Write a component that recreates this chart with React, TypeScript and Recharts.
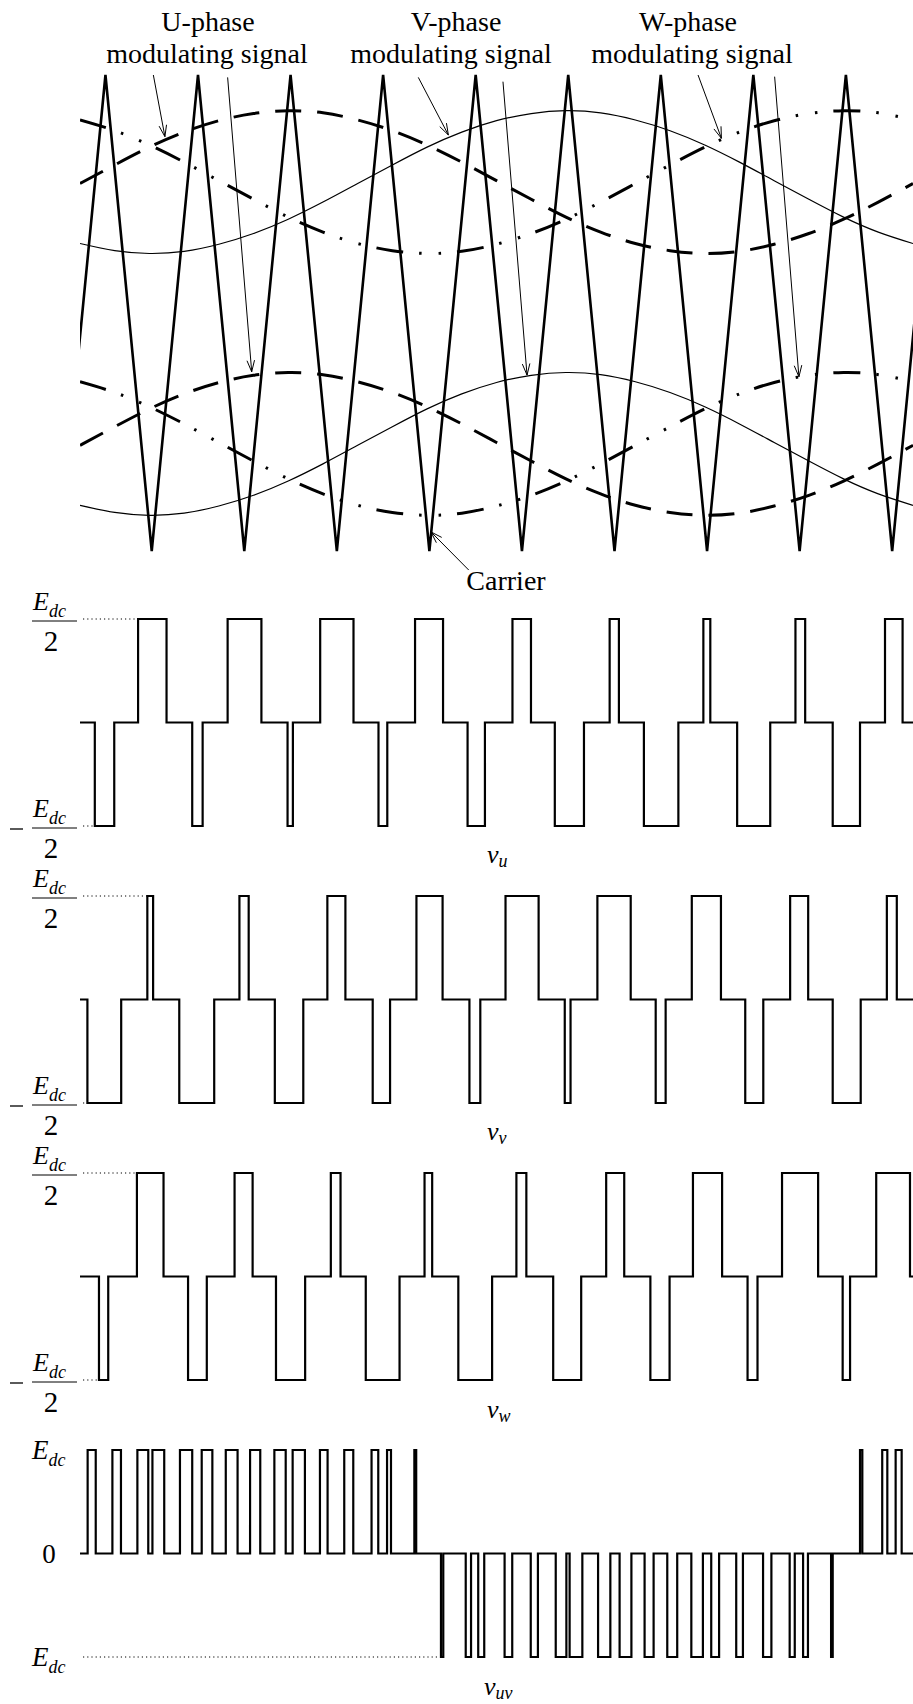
import React from "react";
import { LineChart, Line, XAxis, YAxis, ReferenceLine } from "recharts";

// Angle axis in electrical degrees: 0..360 is one period of the reference.
const angles = [0, 15, 30, 45, 60, 75, 90, 105, 120, 135, 150, 165, 180, 195, 210, 225, 240, 255, 270, 285, 300, 315, 330, 345, 360];

// Per-unit modulating signals
const uRef = [-0.02, 0.24, 0.49, 0.7, 0.86, 0.96, 1.0, 0.97, 0.87, 0.72, 0.52, 0.28, 0.02, -0.24, -0.49, -0.7, -0.86, -0.96, -1.0, -0.97, -0.87, -0.72, -0.52, -0.28, -0.02];
const vRef = [-0.86, -0.96, -1.0, -0.97, -0.87, -0.72, -0.52, -0.28, -0.02, 0.24, 0.49, 0.7, 0.86, 0.96, 1.0, 0.97, 0.87, 0.72, 0.52, 0.28, 0.02, -0.24, -0.49, -0.7, -0.86];
const wRef = [0.87, 0.72, 0.52, 0.28, 0.02, -0.24, -0.49, -0.7, -0.86, -0.96, -1.0, -0.97, -0.87, -0.72, -0.52, -0.28, -0.02, 0.24, 0.49, 0.7, 0.86, 0.96, 1.0, 0.97, 0.87];

// Triangular carrier vertices
const carrierAngles = [-9, 11, 31, 51, 71, 91, 111, 131, 151, 171, 191, 211, 231, 251, 271, 291, 311, 331, 351, 371];
const carrierLevels = [-1, 1, -1, 1, -1, 1, -1, 1, -1, 1, -1, 1, -1, 1, -1, 1, -1, 1, -1, 1];

// Switching pulses: [start, end, level]; phase voltages in Edc/2, line voltage in Edc
type Pulse = [number, number, number];

const vuPulses: Pulse[] = [
  [6.4, 14.8, -1], [25.1, 37.4, 1], [48.5, 53.0, -1], [63.8, 78.4, 1], [89.7, 92.0, -1], [103.8, 118.2, 1],
  [129.0, 132.8, -1], [144.8, 156.9, 1], [167.5, 175.0, -1], [186.9, 194.9, 1], [205.2, 217.8, -1], [228.9, 232.9, 1],
  [243.7, 258.6, -1], [269.4, 272.4, 1], [284.0, 298.3, -1], [309.2, 313.4, 1], [325.3, 337.1, -1], [347.9, 355.5, 1],
];
const vvPulses: Pulse[] = [
  [3.2, 17.8, -1], [29.1, 31.6, 1], [42.9, 58.0, -1], [68.9, 72.9, 1], [84.2, 96.5, -1], [106.9, 114.7, 1],
  [126.5, 134.0, -1], [145.4, 156.7, 1], [168.3, 173.0, -1], [183.9, 198.2, 1], [209.5, 212.0, -1], [223.6, 238.0, 1],
  [248.8, 253.1, -1], [264.4, 277.0, 1], [287.5, 295.3, -1], [306.9, 314.7, 1], [325.3, 337.4, -1], [348.7, 353.0, 1],
];
const vwPulses: Pulse[] = [
  [8.2, 12.2, -1], [24.6, 36.1, 1], [46.7, 54.8, -1], [66.8, 74.6, 1], [84.7, 97.3, -1], [108.4, 112.6, 1],
  [123.5, 138.1, -1], [148.9, 152.2, 1], [163.5, 178.1, -1], [188.6, 192.9, 1], [204.5, 216.6, -1], [227.4, 235.2, 1],
  [246.5, 254.8, -1], [264.9, 277.5, 1], [288.5, 292.8, -1], [303.4, 319.0, 1], [329.6, 332.8, -1], [344.1, 358.7, 1],
];
const vuvPulses: Pulse[] = [
  [3.3, 6.8, 1], [14.0, 17.7, 1], [24.8, 29.5, 1], [31.3, 36.4, 1], [43.2, 48.5, 1], [52.6, 57.2, 1],
  [63.0, 68.1, 1], [73.5, 77.9, 1], [84.0, 88.9, 1], [91.9, 97.2, 1], [103.7, 107.0, 1], [114.2, 118.1, 1],
  [126.0, 128.9, 1], [132.7, 134.4, 1], [144.5, 145.3, 1], [156.0, 157.0, -1], [166.7, 169.0, -1], [172.1, 174.7, -1],
  [183.5, 186.8, -1], [194.8, 197.9, -1], [205.6, 210.2, -1], [211.6, 217.1, -1], [223.9, 229.2, -1], [233.2, 238.3, -1],
  [244.0, 247.9, -1], [253.8, 258.1, -1], [264.2, 269.2, -1], [272.8, 276.2, -1], [283.6, 286.5, -1], [295.2, 298.8, -1],
  [306.7, 308.9, -1], [312.5, 314.6, -1], [324.6, 325.3, -1], [337.1, 338.1, 1], [346.7, 348.9, 1], [352.5, 355.1, 1],
];

// offset of the two reference copies and their depth, relative to carrier peak
const BAND = 0.55;
const GAIN = 0.3;

// label arrows, [angle, level] pairs in the top chart's coordinates
const arrows: [number, number, number, number][] = [
  [31.7, 1.0, 36.7, 0.741],
  [63.8, 0.99, 74.2, -0.247],
  [146.2, 0.99, 159.2, 0.748],
  [182.8, 0.972, 193.2, -0.261],
  [267.1, 1.0, 277.2, 0.734],
  [300.2, 0.993, 310.7, -0.268],
  [168.0, -1.08, 151.7, -0.92],
];

const SERIF = "'Liberation Serif', 'Times New Roman', serif";
const W = 913;
const LEFT = 80;

const carrierData = carrierAngles.map((t, i) => ({ t, c: carrierLevels[i] }));
const refData = angles.map((t, i) => ({
  t,
  uHi: BAND + GAIN * uRef[i],
  vHi: BAND + GAIN * vRef[i],
  wHi: BAND + GAIN * wRef[i],
  uLo: -BAND + GAIN * uRef[i],
  vLo: -BAND + GAIN * vRef[i],
  wLo: -BAND + GAIN * wRef[i],
}));

const toSteps = (pulses: Pulse[]) => {
  const pts = [{ t: 0, v: 0 }];
  pulses.forEach(([a, b, lv]) => {
    pts.push({ t: a, v: lv });
    pts.push({ t: b, v: 0 });
  });
  pts.push({ t: 360, v: 0 });
  return pts;
};

const arrowShape = (p: any) => {
  const { x1, y1, x2, y2 } = p;
  const ang = Math.atan2(y2 - y1, x2 - x1);
  const len = 12;
  const a1 = ang + Math.PI - 0.32;
  const a2 = ang + Math.PI + 0.32;
  return (
    <g>
      <line x1={x1} y1={y1} x2={x2} y2={y2} stroke="#000" strokeWidth={1} />
      <polyline
        points={`${x2 + len * Math.cos(a1)},${y2 + len * Math.sin(a1)} ${x2},${y2} ${x2 + len * Math.cos(a2)},${y2 + len * Math.sin(a2)}`}
        fill="none"
        stroke="#000"
        strokeWidth={1}
      />
    </g>
  );
};

const DASH_U = "26 16";
const DASH_W = "27 16 2.5 17 2.5 16";

const refLines = (suffix: string) => [
  <Line key={"u" + suffix} data={refData} dataKey={"u" + suffix} type="natural" stroke="#000" strokeWidth={3} strokeDasharray={DASH_U} dot={false} activeDot={false} isAnimationActive={false} />,
  <Line key={"v" + suffix} data={refData} dataKey={"v" + suffix} type="natural" stroke="#000" strokeWidth={1.2} dot={false} activeDot={false} isAnimationActive={false} />,
  <Line key={"w" + suffix} data={refData} dataKey={"w" + suffix} type="natural" stroke="#000" strokeWidth={3} strokeDasharray={DASH_W} dot={false} activeDot={false} isAnimationActive={false} />,
];

const ModulationPanel = () => (
  <LineChart width={W} height={600} margin={{ top: 75, right: 0, bottom: 49, left: LEFT }}>
    <XAxis type="number" dataKey="t" domain={[0, 360]} allowDataOverflow hide />
    <YAxis type="number" domain={[-1, 1]} hide width={0} />
    {refLines("Hi")}
    {refLines("Lo")}
    <Line data={carrierData} dataKey="c" type="linear" stroke="#000" strokeWidth={2.6} dot={false} activeDot={false} isAnimationActive={false} />
    {arrows.map(([xa, ya, xb, yb], i) => (
      <ReferenceLine key={i} segment={[{ x: xa, y: ya }, { x: xb, y: yb }]} ifOverflow="visible" shape={arrowShape} />
    ))}
  </LineChart>
);

const DOT_START = 1.3;

const WavePanel = ({ pulses, top, dottedTop }: { pulses: Pulse[]; top: number; dottedTop: boolean }) => {
  const firstHi = pulses.find((p) => p[2] === 1)![0];
  const firstLo = pulses.find((p) => p[2] === -1)![0];
  return (
    <div style={{ position: "absolute", left: 0, top: top - 10 }}>
      <LineChart width={W} height={227} data={toSteps(pulses)} margin={{ top: 10, right: 0, bottom: 10, left: LEFT }}>
        <XAxis type="number" dataKey="t" domain={[0, 360]} allowDataOverflow hide />
        <YAxis type="number" domain={[-1, 1]} hide width={0} />
        {dottedTop && (
          <ReferenceLine segment={[{ x: DOT_START, y: 1 }, { x: firstHi, y: 1 }]} stroke="#000" strokeWidth={1} strokeDasharray="1.2 3" ifOverflow="visible" />
        )}
        <ReferenceLine segment={[{ x: DOT_START, y: -1 }, { x: firstLo, y: -1 }]} stroke="#000" strokeWidth={1} strokeDasharray="1.2 3" ifOverflow="visible" />
        <Line dataKey="v" type="stepAfter" stroke="#000" strokeWidth={2.2} dot={false} activeDot={false} isAnimationActive={false} />
      </LineChart>
    </div>
  );
};

const Edc = ({ x, y, size = 26, sub = 18 }: { x: number; y: number; size?: number; sub?: number }) => (
  <text x={x} y={y} fontFamily={SERIF} fontStyle="italic" fontSize={size}>
    E<tspan fontSize={sub} dy={size * 0.25}>dc</tspan>
  </text>
);

// E_dc over 2, fraction bar sitting on the level line; the minus sign drawn as a rule
const HalfEdc = ({ y, neg }: { y: number; neg?: boolean }) => (
  <g>
    {neg && <line x1={10} x2={23} y1={y + 3} y2={y + 3} stroke="#000" strokeWidth={1.3} />}
    <Edc x={33} y={y - 9} />
    <line x1={32} x2={77} y1={y + 2} y2={y + 2} stroke="#000" strokeWidth={1} />
    <text x={51} y={y + 32} textAnchor="middle" fontFamily={SERIF} fontSize={29}>2</text>
  </g>
);

const VLabel = ({ x, y, sub }: { x: number; y: number; sub: string }) => (
  <text x={x} y={y} fontFamily={SERIF} fontStyle="italic" fontSize={26}>
    v<tspan fontSize={18} dy={4}>{sub}</tspan>
  </text>
);

const levels = [619, 896, 1173, 1450];

export default function App() {
  return (
    <div style={{ position: "absolute", left: 0, top: 0, width: W, height: 1704, overflow: "hidden", background: "#fff" }}>
      <div style={{ position: "absolute", left: 0, top: 0 }}>
        <ModulationPanel />
      </div>
      <WavePanel pulses={vuPulses} top={levels[0]} dottedTop />
      <WavePanel pulses={vvPulses} top={levels[1]} dottedTop />
      <WavePanel pulses={vwPulses} top={levels[2]} dottedTop />
      <WavePanel pulses={vuvPulses} top={levels[3]} dottedTop={false} />

      <svg width={W} height={1704} style={{ position: "absolute", left: 0, top: 0, pointerEvents: "none" }}>
        <g fontFamily={SERIF} fontSize={28} textAnchor="middle">
          <text x={208} y={31}>U-phase</text>
          <text x={207} y={63}>modulating signal</text>
          <text x={456} y={31}>V-phase</text>
          <text x={451} y={63}>modulating signal</text>
          <text x={688} y={31}>W-phase</text>
          <text x={692} y={63}>modulating signal</text>
          <text x={506} y={590}>Carrier</text>
        </g>

        {levels.slice(0, 3).map((y) => (
          <g key={y}>
            <HalfEdc y={y} />
            <HalfEdc y={y + 207} neg />
          </g>
        ))}

        <Edc x={32} y={levels[3] + 9} size={27} sub={18} />
        <text x={49} y={levels[3] + 113} textAnchor="middle" fontFamily={SERIF} fontSize={27}>0</text>
        <Edc x={32} y={levels[3] + 216} size={27} sub={18} />

        <VLabel x={487} y={863} sub="u" />
        <VLabel x={487} y={1140} sub="v" />
        <VLabel x={487} y={1418} sub="w" />
        <VLabel x={484} y={1695} sub="uv" />
      </svg>
    </div>
  );
}
